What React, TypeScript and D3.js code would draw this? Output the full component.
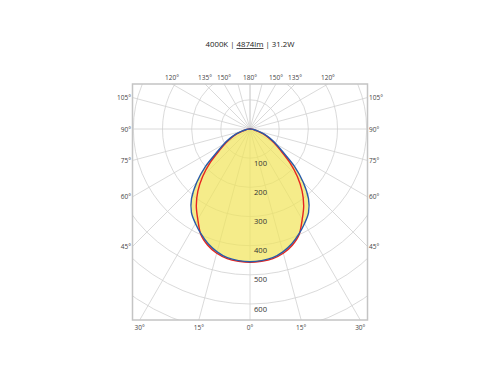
import React from 'react';
import * as d3 from 'd3';

// C-plane angles (deg from nadir) and intensities (cd)
const gammaDeg = [0, 5, 10, 15, 20, 25, 30, 35, 40, 45, 50, 55, 60, 65, 70, 75, 80, 85, 90,
  95, 100, 105, 110, 115, 120, 125, 130, 135, 140, 145, 150, 155, 160, 165, 170, 175, 180];
const planeC0 = [455, 453, 448, 436, 419, 397, 374, 350, 312, 258, 199, 139, 104, 76, 52, 29, 15, 6, 1,
  0, 0, 0, 0, 0, 0, 0, 0, 0, 0, 0, 0, 0, 0, 0, 0, 0, 0];
const planeC90 = [457, 455, 451, 441, 424, 399, 358, 321, 278, 229, 177, 128, 95, 70, 47, 27, 14, 6, 1,
  0, 0, 0, 0, 0, 0, 0, 0, 0, 0, 0, 0, 0, 0, 0, 0, 0, 0];

const ringValues = [100, 200, 300, 400, 500, 600, 700, 800];
const ringLabels = [100, 200, 300, 400, 500, 600];
const spokeAngles = d3.range(-180, 181, 15);
const angleLabels = [0, 15, 30, 45, 60, 75, 90, 105, 120, 135, 150, 180];

const W = 500, H = 370;
const cx = 250, cy = 129;
const box = { x0: 132.5, x1: 367.5, y0: 84, y1: 320 };
const font = "'Open Sans', sans-serif";

const r = d3.scaleLinear().domain([0, 600]).range([0, 175]);
const rad = (deg: number) => (deg * Math.PI) / 180;

// lineRadial angle: 0 = up, clockwise. Nadir angle g on the left side -> PI + g
function curvePath(values: number[]) {
  const pts: [number, number][] = [];
  for (let i = gammaDeg.length - 1; i > 0; i--) pts.push([Math.PI - rad(gammaDeg[i]), values[i]]);
  for (let i = 0; i < gammaDeg.length - 1; i++) pts.push([Math.PI + rad(gammaDeg[i]), values[i]]);
  return d3.lineRadial<[number, number]>()
    .angle(d => d[0]).radius(d => r(d[1]))
    .curve(d3.curveCardinalClosed.tension(0.2))(pts) || '';
}

// where a spoke at nadir angle g (signed, + to the right) meets the frame
function spokeEnd(g: number) {
  const dx = Math.sin(rad(g)), dy = Math.cos(rad(g));
  let t = Infinity;
  if (dx > 1e-9) t = Math.min(t, (box.x1 - cx) / dx);
  if (dx < -1e-9) t = Math.min(t, (box.x0 - cx) / dx);
  if (dy > 1e-9) t = Math.min(t, (box.y1 - cy) / dy);
  if (dy < -1e-9) t = Math.min(t, (box.y0 - cy) / dy);
  return { x: cx + dx * t, y: cy + dy * t };
}

function AngleLabel({ g }: { g: number }) {
  const p = spokeEnd(g);
  const a = Math.abs(g);
  let x = p.x, y = p.y, anchor = 'middle';
  if (Math.abs(p.y - box.y1) < 0.5) { y = box.y1 + 7; }
  else if (Math.abs(p.y - box.y0) < 0.5) { y = box.y0 - 7; }
  else if (p.x < cx) { x = box.x0 - 1.5; anchor = 'end'; }
  else { x = box.x1 + 1.5; anchor = 'start'; }
  return (
    <text x={x} y={y} textAnchor={anchor} dominantBaseline="central"
      fontSize={6.5} fill="#444" fontFamily={font}>{a}°</text>
  );
}

export default function App() {
  const pathC0 = curvePath(planeC0);
  const pathC90 = curvePath(planeC90);
  const labelSet: number[] = [];
  angleLabels.forEach(a => {
    labelSet.push(a);
    if (a !== 0 && a !== 180) labelSet.push(-a);
  });

  return (
    <svg width={W} height={H} style={{ position: 'absolute', left: 0, top: 0, background: '#fff' }}>
      <defs>
        <clipPath id="frame">
          <rect x={box.x0} y={box.y0} width={box.x1 - box.x0} height={box.y1 - box.y0} />
        </clipPath>
      </defs>

      <text x={cx} y={44} textAnchor="middle" dominantBaseline="central" fontSize={7.8}
        fill="#1a1a1a" fontFamily={font}>
        4000K | <tspan textDecoration="underline">4874lm</tspan> | 31.2W
      </text>

      <g clipPath="url(#frame)">
        {ringValues.map(v => (
          <circle key={v} cx={cx} cy={cy} r={r(v)} fill="none" stroke="#d0d0d0" strokeWidth={0.8} />
        ))}
        {spokeAngles.map(g => {
          const p = spokeEnd(g);
          return <line key={g} x1={cx} y1={cy} x2={p.x} y2={p.y} stroke="#d0d0d0" strokeWidth={0.8} />;
        })}

        <g transform={`translate(${cx},${cy})`}>
          <g opacity={0.7}>
            <path d={pathC0} fill="#f1e55a" />
            <path d={pathC90} fill="#f1e55a" />
          </g>
          <path d={pathC90} fill="none" stroke="#e62421" strokeWidth={1.4} />
          <path d={pathC0} fill="none" stroke="#2a5ba8" strokeWidth={1.4} />
        </g>

        {ringLabels.map(v => (
          <text key={v} x={cx + 4} y={cy + r(v) + 4.5} dominantBaseline="central" fontSize={7.6}
            fill="#333" fontFamily={font}>{v}</text>
        ))}
      </g>

      <rect x={box.x0} y={box.y0} width={box.x1 - box.x0} height={box.y1 - box.y0}
        fill="none" stroke="#c4c4c4" strokeWidth={1.5} />

      {labelSet.map(g => <AngleLabel key={g} g={g} />)}
    </svg>
  );
}
